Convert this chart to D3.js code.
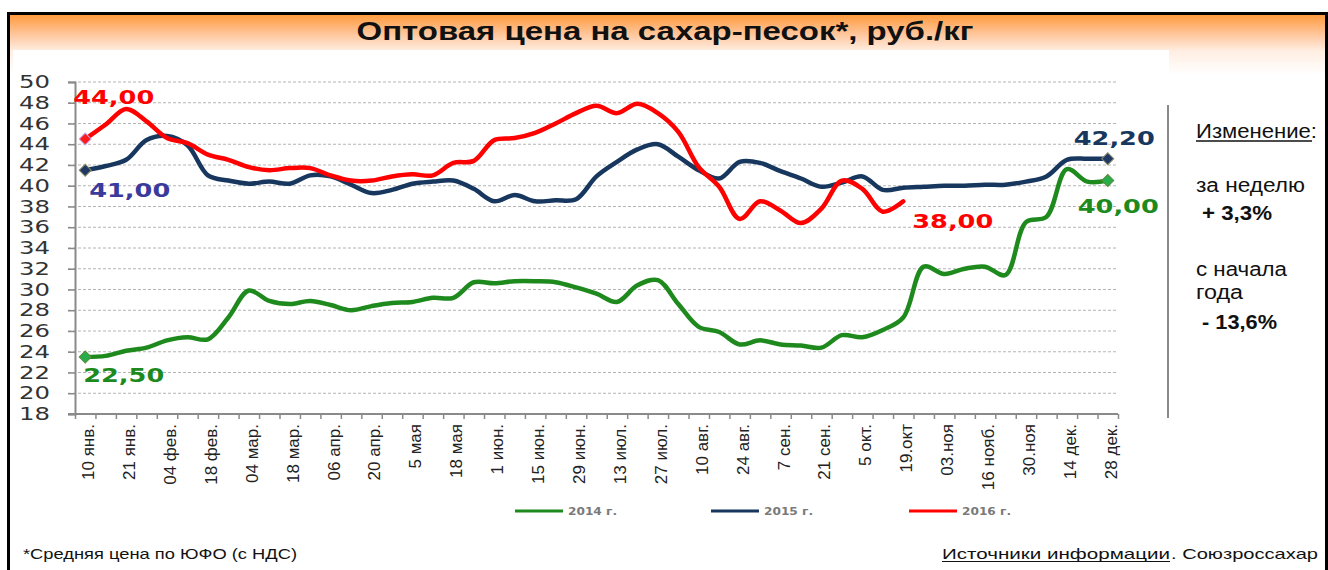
<!DOCTYPE html>
<html><head><meta charset="utf-8">
<script src="https://cdn.jsdelivr.net/npm/d3@7"></script>
<style>body{margin:0;background:#fff}svg{display:block}</style>
</head><body><svg id="c" width="1328" height="570"></svg>
<script>
const tickLabels = ["10 янв.","21 янв.","04 фев.","18 фев.","04 мар.","18 мар.","06 апр.","20 апр.","5 мая","18 мая","1 июн.","15 июн.","29 июн.","13 июл.","27 июл.","10 авг.","24 авг.","7 сен.","21 сен.","5 окт.","19.окт","03.ноя","16 нояб.","30.ноя","14 дек.","28 дек."];
const values2014 = [23.5,23.6,24.1,24.4,25.1,25.4,25.2,27.3,29.9,28.9,28.6,28.9,28.5,28.0,28.4,28.7,28.8,29.2,29.2,30.7,30.6,30.8,30.8,30.7,30.2,29.6,28.8,30.4,30.9,28.6,26.4,25.9,24.7,25.1,24.7,24.6,24.4,25.6,25.4,26.1,27.3,32.2,31.5,32.0,32.2,31.4,36.5,37.0,41.6,40.4,40.5];
const values2015 = [41.5,41.9,42.5,44.4,44.8,43.9,41.0,40.5,40.2,40.4,40.2,41.0,40.9,40.1,39.3,39.6,40.2,40.4,40.5,39.7,38.5,39.1,38.5,38.6,38.7,40.9,42.3,43.5,44.0,42.8,41.5,40.7,42.3,42.2,41.4,40.7,39.9,40.3,40.9,39.6,39.8,39.9,40.0,40.0,40.1,40.1,40.4,40.9,42.5,42.6,42.6];
const values2016 = [44.5,45.9,47.4,46.2,44.6,44.1,43.0,42.5,41.8,41.5,41.7,41.7,41.0,40.5,40.5,40.9,41.1,41.0,42.2,42.4,44.4,44.6,45.1,46.0,47.0,47.7,47.0,47.9,47.0,45.2,41.8,39.9,36.8,38.5,37.6,36.4,37.8,40.5,39.7,37.5,38.5];
const seriesNames = ["2014 г.","2015 г.","2016 г."];
const startLabels = ["22,50","41,00","44,00"];
const endLabels = ["40,00","42,20","38,00"];
const yTicks = [18,20,22,24,26,28,30,32,34,36,38,40,42,44,46,48,50];
const titleText = "Оптовая цена на сахар-песок*, руб./кг";
const sideTexts = ["Изменение:","за неделю","+ 3,3%","с начала","года","- 13,6%"];
const footLeft = "*Средняя цена по ЮФО (с НДС)";
const footSource = "Источники информации";
const footOrg = ". Союзроссахар";

const svg = d3.select("#c");
const defs = svg.append("defs");
const gr = defs.append("linearGradient").attr("id","hdr").attr("x1",0).attr("y1",0).attr("x2",0).attr("y2",1);
[[0,"#ff9b3e"],[0.33,"#ffc79e"],[0.6,"#ffeee2"],[1,"#ffffff"]].forEach(s=>gr.append("stop").attr("offset",s[0]).attr("stop-color",s[1]));
svg.append("rect").attr("x",10).attr("y",15).attr("width",1315).attr("height",60).attr("fill","url(#hdr)");
svg.append("rect").attr("x",13).attr("y",50).attr("width",1156).attr("height",530).attr("fill","#fff");
svg.append("path").attr("d","M8.5,580 V13.5 H1326.5 V580").attr("fill","none").attr("stroke","#000").attr("stroke-width",3);

svg.append("text").attr("x",665).attr("y",40).attr("text-anchor","middle")
  .attr("font-family","Liberation Sans, Arial").attr("font-weight","bold").attr("font-size",26)
  .attr("textLength",617).attr("lengthAdjust","spacingAndGlyphs").attr("fill","#111").text(titleText);

const n = values2014.length;
const x = d3.scaleBand().domain(d3.range(n)).range([75,1118]).padding(0);
const xc = i => x(i) + x.bandwidth()/2;
const xl = d3.scaleLinear().domain([0,n]).range([75,1118]);
const y = d3.scaleLinear().domain([18,50]).range([414,82]);

// grid
svg.append("g").selectAll("line").data(yTicks.filter(v=>v>18)).join("line")
  .attr("x1",68).attr("x2",1118).attr("y1",d=>y(d)).attr("y2",d=>y(d))
  .attr("stroke","#b4b4b4").attr("stroke-width",1).attr("stroke-dasharray","3,2");

// y axis
const ya = svg.append("g").attr("transform","translate(75,0)")
  .call(d3.axisLeft(y).tickValues(yTicks).tickSize(7).tickPadding(18).tickFormat(d3.format("d")));
ya.select(".domain").attr("stroke","#8a8a8a").attr("stroke-width",2);
ya.selectAll(".tick line").attr("stroke","#8a8a8a").attr("stroke-width",1.5);
ya.selectAll("text").attr("font-family","DejaVu Sans, Verdana").attr("font-size",17.5).attr("fill","#333")
  .attr("textLength",31).attr("lengthAdjust","spacingAndGlyphs");

// x axis ticks
const xa = svg.append("g").attr("transform","translate(0,414)")
  .call(d3.axisBottom(xl).tickValues(d3.range(n+1)).tickSize(5).tickFormat(""));
xa.select(".domain").attr("stroke","#8a8a8a").attr("stroke-width",2).attr("d","M68,0H1118");
xa.selectAll(".tick line").attr("stroke","#8a8a8a").attr("stroke-width",1.5);

// x labels
svg.append("g").selectAll("text").data(tickLabels).join("text")
  .attr("transform",(d,k)=>`translate(${xc(2*k)+3},424) rotate(-90)`)
  .attr("text-anchor","end").attr("dy","0.35em")
  .attr("font-family","Liberation Sans, Arial").attr("font-size",17).attr("fill","#222")
  .text(d=>d);

const colors = ["#1e8a1e","#17375e","#ff0000"];
const markerFill = ["#27ad4a","#1f3864","#ff1a1a"];
const markerStroke = ["#5a8a3a","#8a8a6a","#c8a8f0"];
const labelColors = ["#1e8a1e","#17375e","#ff0000"];
const startLabelColors = ["#1e8a1e","#3a3a9c","#ff0000"];
const series = [values2014, values2015, values2016];
const line = d3.line().x((d,i)=>xc(i)).y(d=>y(d)).curve(d3.curveCatmullRom.alpha(0.5));

series.forEach((vals,s)=>{
  svg.append("path").attr("d",line(vals)).attr("fill","none").attr("stroke",colors[s])
    .attr("stroke-width",4.5).attr("stroke-linejoin","round").attr("stroke-linecap","round");
});

const sq = d3.symbol(d3.symbolSquare, 72)();
series.forEach((vals,s)=>{
  const idx = s===2 ? [0] : [0, vals.length-1];
  idx.forEach(i=>{
    svg.append("path").attr("d",sq).attr("transform",`translate(${xc(i)},${y(vals[i])}) rotate(45)`)
      .attr("fill",markerFill[s]).attr("stroke",markerStroke[s]).attr("stroke-width",1);
  });
});

function dataLabel(txt, px, py, color){
  svg.append("text").attr("x",px).attr("y",py).attr("dy","0.36em")
    .attr("font-family","DejaVu Sans, Verdana").attr("font-weight","bold").attr("font-size",20)
    .attr("textLength",81).attr("lengthAdjust","spacingAndGlyphs").attr("fill",color).text(txt);
}
// start labels
dataLabel(startLabels[2], xc(0)-12, y(values2016[0])-42, startLabelColors[2]);
dataLabel(startLabels[1], xc(0)+4, y(values2015[0])+20, startLabelColors[1]);
dataLabel(startLabels[0], xc(0)-2, y(values2014[0])+18, startLabelColors[0]);
// end labels
dataLabel(endLabels[1], xc(n-1)-34, y(values2015[n-1])-21, labelColors[1]);
dataLabel(endLabels[0], xc(n-1)-30, y(values2014[n-1])+25, labelColors[0]);
const r = values2016.length-1;
dataLabel(endLabels[2], xc(r)+9, y(values2016[r])+19, labelColors[2]);

// legend
const legX = [515,711,909];
seriesNames.forEach((nm,s)=>{
  svg.append("line").attr("x1",legX[s]).attr("x2",legX[s]+48).attr("y1",511).attr("y2",511)
    .attr("stroke",colors[s]).attr("stroke-width",3);
  svg.append("text").attr("x",legX[s]+53).attr("y",511).attr("dy","0.35em")
    .attr("font-family","DejaVu Sans, Verdana").attr("font-weight","bold").attr("font-size",11)
    .attr("textLength",49).attr("lengthAdjust","spacingAndGlyphs").attr("fill","#7a7a7a").text(nm);
});

// side panel
svg.append("line").attr("x1",1168).attr("x2",1168).attr("y1",105).attr("y2",418).attr("stroke","#8a8a8a").attr("stroke-width",2);
const side = [
  {t:sideTexts[0], x:1196, y:138, w:121, b:false},
  {t:sideTexts[1], x:1196, y:192, w:109, b:false},
  {t:sideTexts[2], x:1202, y:220, w:70, b:true},
  {t:sideTexts[3], x:1196, y:276, w:91, b:false},
  {t:sideTexts[4], x:1196, y:299, w:47, b:false},
  {t:sideTexts[5], x:1202, y:329, w:75, b:true}
];
side.forEach(d=>{
  svg.append("text").attr("x",d.x).attr("y",d.y).attr("font-family","Liberation Sans, Arial")
    .attr("font-size",20).attr("font-weight",d.b?"bold":"normal").attr("fill","#111")
    .attr("textLength",d.w).attr("lengthAdjust","spacingAndGlyphs").text(d.t);
});
svg.append("line").attr("x1",1196).attr("x2",1312).attr("y1",141).attr("y2",141).attr("stroke","#111").attr("stroke-width",1.5);

// footer
svg.append("text").attr("x",23).attr("y",559).attr("font-family","Liberation Sans, Arial").attr("font-size",15)
  .attr("fill","#111").attr("textLength",274).attr("lengthAdjust","spacingAndGlyphs").text(footLeft);
svg.append("text").attr("x",942).attr("y",559).attr("font-family","Liberation Sans, Arial").attr("font-size",15)
  .attr("fill","#111").attr("textLength",228).attr("lengthAdjust","spacingAndGlyphs").text(footSource);
svg.append("line").attr("x1",942).attr("x2",1170).attr("y1",561.5).attr("y2",561.5).attr("stroke","#111").attr("stroke-width",1.2);
svg.append("text").attr("x",1171).attr("y",559).attr("font-family","Liberation Sans, Arial").attr("font-size",15)
  .attr("fill","#111").attr("textLength",147).attr("lengthAdjust","spacingAndGlyphs").text(footOrg);
</script></body></html>
